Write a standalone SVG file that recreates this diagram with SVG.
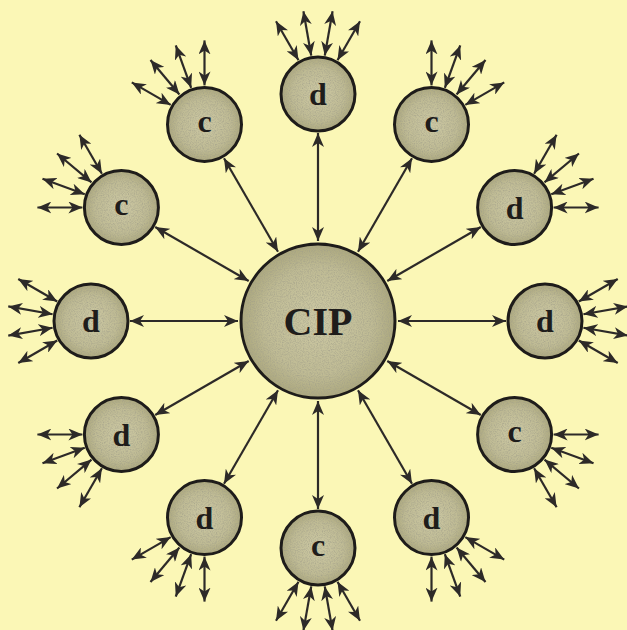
<svg xmlns="http://www.w3.org/2000/svg" xmlns:xlink="http://www.w3.org/1999/xlink" width="627" height="630" viewBox="0 0 627 630">
  <style>
    .node circle.body { fill: url(#disc); stroke: #1e1c1a; stroke-width: 3; }
    .node circle.grain { fill: #bdb992; filter: url(#tex); }
    .node text { font-family: "Liberation Serif", "DejaVu Serif", serif; font-weight: bold; fill: #1f1d1b; text-anchor: middle; }
    .sat text { font-size: 32px; }
    #cip text { font-size: 40px; }
    line.arr { stroke: #2d2a28; stroke-width: 2.2; marker-start: url(#ah); marker-end: url(#ah); }
  </style>
  <defs>
    <radialGradient id="disc" cx="50%" cy="50%" r="50%">
      <stop offset="0" stop-color="#cdc9a4"/>
      <stop offset="0.7" stop-color="#bfbb94"/>
      <stop offset="1" stop-color="#aca87e"/>
    </radialGradient>
    <filter id="tex" x="0" y="0" width="100%" height="100%">
      <feTurbulence type="fractalNoise" baseFrequency="0.85" numOctaves="2" seed="3" result="n"/>
      <feColorMatrix in="n" type="matrix" values="0 0 0 0 0.35  0 0 0 0 0.34  0 0 0 0 0.25  0 0 0 -1.4 0.85" result="d"/>
      <feComposite in="d" in2="SourceGraphic" operator="in"/>
    </filter>
    <marker id="ah" viewBox="0 0 14 12" refX="14" refY="6" markerWidth="14" markerHeight="12" markerUnits="userSpaceOnUse" orient="auto-start-reverse">
      <path d="M0,0 L14,6 L0,12 L4,6 Z" fill="#2d2a28"/>
    </marker>
    <g id="fan">
      <line class="arr" x1="39" y1="0" x2="84" y2="0" transform="rotate(-30)"/>
      <line class="arr" x1="39" y1="0" x2="84" y2="0" transform="rotate(-10)"/>
      <line class="arr" x1="39" y1="0" x2="84" y2="0" transform="rotate(10)"/>
      <line class="arr" x1="39" y1="0" x2="84" y2="0" transform="rotate(30)"/>
    </g>
  </defs>
  <rect width="627" height="630" fill="#fbf7b6"/>

  <g id="connectors">
    <g id="spokes">
      <line class="arr" x1="80" y1="0" x2="188" y2="0" transform="translate(318 321) rotate(-90)"/>
      <line class="arr" x1="80" y1="0" x2="188" y2="0" transform="translate(318 321) rotate(-60)"/>
      <line class="arr" x1="80" y1="0" x2="188" y2="0" transform="translate(318 321) rotate(-30)"/>
      <line class="arr" x1="80" y1="0" x2="188" y2="0" transform="translate(318 321) rotate(0)"/>
      <line class="arr" x1="80" y1="0" x2="188" y2="0" transform="translate(318 321) rotate(30)"/>
      <line class="arr" x1="80" y1="0" x2="188" y2="0" transform="translate(318 321) rotate(60)"/>
      <line class="arr" x1="80" y1="0" x2="188" y2="0" transform="translate(318 321) rotate(90)"/>
      <line class="arr" x1="80" y1="0" x2="188" y2="0" transform="translate(318 321) rotate(120)"/>
      <line class="arr" x1="80" y1="0" x2="188" y2="0" transform="translate(318 321) rotate(150)"/>
      <line class="arr" x1="80" y1="0" x2="188" y2="0" transform="translate(318 321) rotate(180)"/>
      <line class="arr" x1="80" y1="0" x2="188" y2="0" transform="translate(318 321) rotate(-150)"/>
      <line class="arr" x1="80" y1="0" x2="188" y2="0" transform="translate(318 321) rotate(-120)"/>
    </g>
    <g id="fans">
      <use xlink:href="#fan" transform="translate(318 94) rotate(-90)"/>
      <use xlink:href="#fan" transform="translate(431.5 124.4) rotate(-60)"/>
      <use xlink:href="#fan" transform="translate(514.6 207.5) rotate(-30)"/>
      <use xlink:href="#fan" transform="translate(545 321) rotate(0)"/>
      <use xlink:href="#fan" transform="translate(514.6 434.5) rotate(30)"/>
      <use xlink:href="#fan" transform="translate(431.5 517.6) rotate(60)"/>
      <use xlink:href="#fan" transform="translate(318 548) rotate(90)"/>
      <use xlink:href="#fan" transform="translate(204.5 517.6) rotate(120)"/>
      <use xlink:href="#fan" transform="translate(121.4 434.5) rotate(150)"/>
      <use xlink:href="#fan" transform="translate(91 321) rotate(180)"/>
      <use xlink:href="#fan" transform="translate(121.4 207.5) rotate(-150)"/>
      <use xlink:href="#fan" transform="translate(204.5 124.4) rotate(-120)"/>
    </g>
  </g>

  <g id="cip" class="node">
    <circle class="body" cx="318" cy="321" r="77"/>
    <circle class="grain" cx="318" cy="321" r="75"/>
    <text x="318" y="335">CIP</text>
  </g>

  <g id="sat-90" class="node sat"><circle class="body" cx="318" cy="94" r="37"/><circle class="grain" cx="318" cy="94" r="35"/><text x="318" y="105">d</text></g>
  <g id="sat-60" class="node sat"><circle class="body" cx="431.5" cy="124.4" r="37"/><circle class="grain" cx="431.5" cy="124.4" r="35"/><text x="431.5" y="132">c</text></g>
  <g id="sat-30" class="node sat"><circle class="body" cx="514.6" cy="207.5" r="37"/><circle class="grain" cx="514.6" cy="207.5" r="35"/><text x="514.6" y="218.5">d</text></g>
  <g id="sat-0" class="node sat"><circle class="body" cx="545" cy="321" r="37"/><circle class="grain" cx="545" cy="321" r="35"/><text x="545" y="332">d</text></g>
  <g id="sat-m30" class="node sat"><circle class="body" cx="514.6" cy="434.5" r="37"/><circle class="grain" cx="514.6" cy="434.5" r="35"/><text x="514.6" y="442">c</text></g>
  <g id="sat-m60" class="node sat"><circle class="body" cx="431.5" cy="517.6" r="37"/><circle class="grain" cx="431.5" cy="517.6" r="35"/><text x="431.5" y="528.6">d</text></g>
  <g id="sat-m90" class="node sat"><circle class="body" cx="318" cy="548" r="37"/><circle class="grain" cx="318" cy="548" r="35"/><text x="318" y="555.6">c</text></g>
  <g id="sat-m120" class="node sat"><circle class="body" cx="204.5" cy="517.6" r="37"/><circle class="grain" cx="204.5" cy="517.6" r="35"/><text x="204.5" y="528.6">d</text></g>
  <g id="sat-m150" class="node sat"><circle class="body" cx="121.4" cy="434.5" r="37"/><circle class="grain" cx="121.4" cy="434.5" r="35"/><text x="121.4" y="445.5">d</text></g>
  <g id="sat-180" class="node sat"><circle class="body" cx="91" cy="321" r="37"/><circle class="grain" cx="91" cy="321" r="35"/><text x="91" y="332">d</text></g>
  <g id="sat-150" class="node sat"><circle class="body" cx="121.4" cy="207.5" r="37"/><circle class="grain" cx="121.4" cy="207.5" r="35"/><text x="121.4" y="215.1">c</text></g>
  <g id="sat-120" class="node sat"><circle class="body" cx="204.5" cy="124.4" r="37"/><circle class="grain" cx="204.5" cy="124.4" r="35"/><text x="204.5" y="132">c</text></g>
</svg>
